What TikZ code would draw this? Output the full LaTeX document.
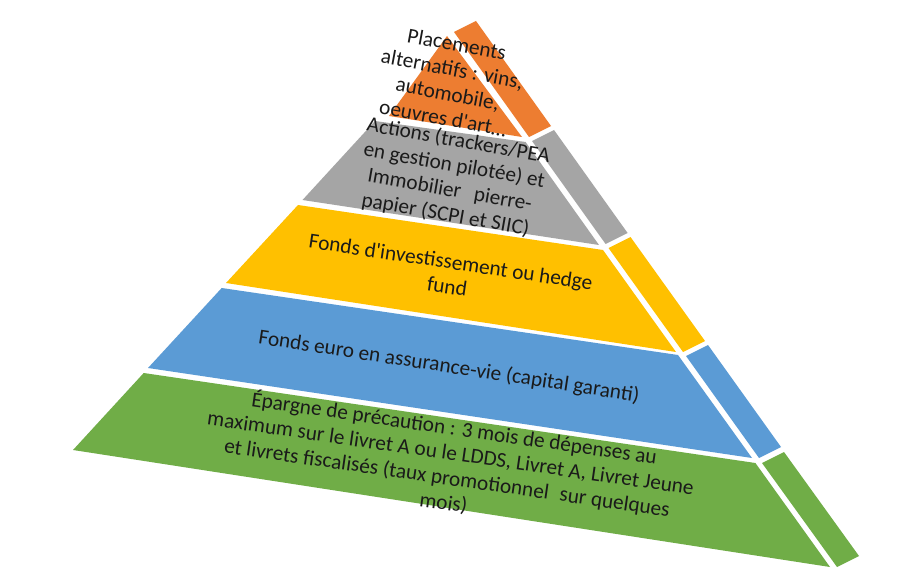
\documentclass[tikz,border=0pt]{standalone}
\usepackage{fontspec}
\setmainfont{Carlito}[Ligatures=TeXOff]
\definecolor{cOrange}{HTML}{ED7D31}
\definecolor{cGray}{HTML}{A5A5A5}
\definecolor{cYellow}{HTML}{FFC000}
\definecolor{cBlue}{HTML}{5B9BD5}
\definecolor{cGreen}{HTML}{70AD47}
\definecolor{cText}{HTML}{1A1A1A}
\begin{document}
\begin{tikzpicture}[x=1pt,y=-1pt,
  lbl/.style={font=\fontsize{21.3}{25}\selectfont, align=center, text=cText, inner sep=0pt},
  face/.style={draw=none}]
\useasboundingbox (0,0) rectangle (902,577);
\fill[white] (0,0) rectangle (902,577);
% ---- front faces ----
\fill[face, cGreen]  (73,450) -- (143.7,373) -- (755.4,463) -- (830,567) -- cycle;
\fill[face, cBlue]   (148,368) -- (221.7,288) -- (678,355) -- (752,458) -- cycle;
\fill[face, cYellow] (226,283) -- (298,205) -- (603,250) -- (676,352) -- cycle;
\fill[face, cGray]   (302.5,200) -- (375,121) -- (525.6,142) -- (599,245) -- cycle;
\fill[face, cOrange] (389,116) -- (447,36) -- (522,137) -- cycle;
% ---- side faces ----
\fill[face, cOrange] (454,32) -- (476,21) -- (551,126) -- (529,137) -- cycle;
\fill[face, cGray]   (532,141) -- (554,130) -- (627.6,233) -- (605.6,244) -- cycle;
\fill[face, cYellow] (608.5,248) -- (630.5,237) -- (705,341) -- (683,352) -- cycle;
\fill[face, cBlue]   (686,356) -- (708,345) -- (781,447) -- (759,458) -- cycle;
\fill[face, cGreen]  (762,463) -- (784,452) -- (859,556) -- (837,567) -- cycle;
% ---- labels ----
\node[lbl, rotate=-10.5] (tOrange) at (450,81)
  {Placements\\alternatifs : vins,\\automobile,\\oeuvres d'art…};
\node[lbl, rotate=-10] (tGray) at (452,178)
  {Actions (trackers/PEA\\en gestion pilotée) et\\Immobilier\hspace{0.4em} pierre-\\papier (SCPI et SIIC)};
\node[lbl, rotate=-8.5] (tYellow) at (449,274)
  {Fonds d'investissement ou hedge\\fund};
\node[lbl, rotate=-8.7] (tBlue) at (449,367)
  {Fonds euro en assurance-vie (capital garanti)};
\node[lbl, rotate=-8.2] (tGreen) at (449,465)
  {Épargne de précaution : 3 mois de dépenses au\\maximum sur le livret A ou le LDDS, Livret A, Livret Jeune\\et livrets fiscalisés (taux promotionnel\hspace{0.3em} sur quelques\\mois)};
\end{tikzpicture}
\end{document}
